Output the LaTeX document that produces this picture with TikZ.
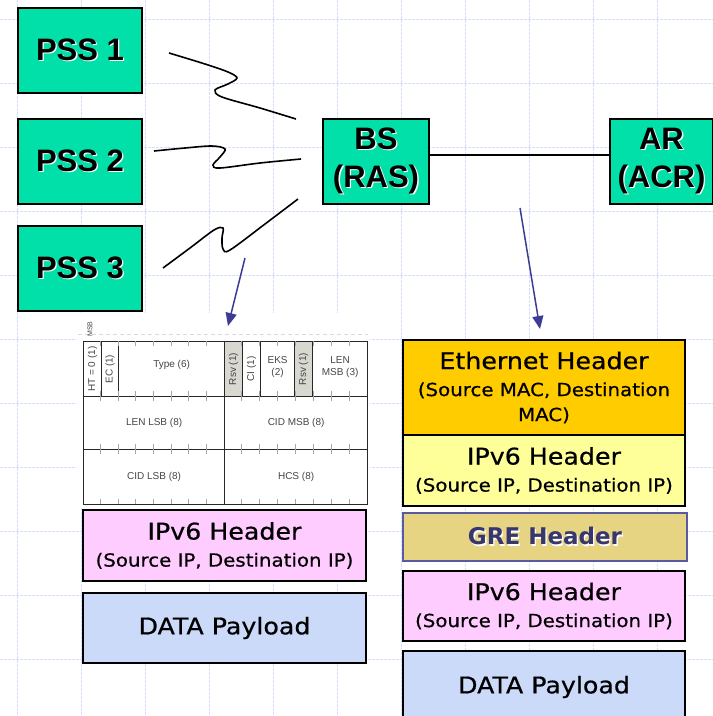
\documentclass[tikz,border=0pt]{standalone}
\usepackage{fontspec}
\setmainfont{DejaVu Sans}
\newfontfamily\labfont{Liberation Sans}
\newfontfamily\pkt[FakeStretch=1.1,FakeBold=0.6]{DejaVu Sans}
\newfontfamily\grefont{DejaVu Sans}
\newfontfamily\tblfont{Liberation Sans}
\usetikzlibrary{arrows.meta}
\definecolor{stn}{RGB}{0,224,168}
\definecolor{gridc}{RGB}{215,222,250}
\definecolor{arrc}{RGB}{60,60,150}
\definecolor{pinkc}{RGB}{255,204,255}
\definecolor{bluec}{RGB}{204,218,250}
\definecolor{ethc}{RGB}{255,204,0}
\definecolor{yelc}{RGB}{255,255,153}
\definecolor{grec}{RGB}{230,212,130}
\definecolor{greb}{RGB}{90,90,160}
\definecolor{gret}{RGB}{55,55,110}
\definecolor{tblline}{RGB}{40,40,40}
\definecolor{tbltext}{RGB}{70,70,70}
\definecolor{rsvc}{RGB}{216,216,208}
\newcommand\shd[1]{\leavevmode\rlap{\kern1.3pt\raisebox{-1.3pt}{\color{white}#1}}#1}
\tikzset{
  gridline/.style={gridc, line width=0.7pt, dash pattern=on 2.5pt off 1.5pt},
  stnbox/.style={draw=black, line width=2pt, fill=stn, anchor=north west, inner sep=0pt, align=center,
     font=\labfont\bfseries\fontsize{31}{38}\selectfont},
  wave/.style={black, line width=1.6pt},
  barrow/.style={arrc, line width=1.5pt, -{Triangle[length=13pt,width=11pt]}},
  pbox/.style={draw=black, line width=2pt, anchor=north west, inner sep=0pt, align=center,
     font=\pkt\fontsize{23}{27}\selectfont},
  cell/.style={draw=tblline, line width=1.2pt, fill=white, anchor=north west, inner sep=0pt},
  ctext/.style={font=\tblfont\fontsize{10}{11.5}\selectfont, text=tbltext, align=center, inner sep=0pt},
  tick/.style={gray!70, line width=0.8pt}
}
\begin{document}
\begin{tikzpicture}[x=1pt,y=-1pt]
\useasboundingbox (0,0) rectangle (713,716);
\fill[white] (0,0) rectangle (713,716);
% grid
\foreach \x in {17,81,...,720} \draw[gridline] (\x,0) -- (\x,716);
\foreach \y in {19,83,...,716} \draw[gridline] (0,\y) -- (713,\y);

% stations
\node[stnbox, minimum width=124, minimum height=85] (p1) at (17,7) {\shd{PSS 1}};
\node[stnbox, minimum width=124, minimum height=85] (p2) at (17,118) {\shd{PSS 2}};
\node[stnbox, minimum width=124, minimum height=85] (p3) at (17,225) {\shd{PSS 3}};
\node[stnbox, minimum width=106, minimum height=85] (bs) at (322,118) {\shd{BS}\\\shd{(RAS)}};
\node[stnbox, minimum width=103, minimum height=85] (ar) at (609,118) {\shd{AR}\\\shd{(ACR)}};
\draw[black, line width=1.6pt] ([yshift=6.5pt]bs.east) -- ([yshift=6.5pt]ar.west);

% wireless links
\draw[wave] plot[smooth, tension=0.55] coordinates {(169,53) (205,64) (228,72) (237,78) (228,84) (215,90) (222,97) (260,108) (296,119)};
\draw[wave] plot[smooth, tension=0.55] coordinates {(154,151) (185,148) (212,146) (225,149) (220,157) (213,165) (220,168) (260,163) (301,159)};
\draw[wave] plot[smooth, tension=0.55] coordinates {(163,268) (190,248) (214,230) (223,228) (222,238) (223,249) (230,250) (265,224) (298,199)};

% MAC header table (image background)
\fill[white] (76,313) rectangle (370,508);
\draw[gray!30, line width=0.8pt, dash pattern=on 4pt off 3pt] (78,334) -- (368,334);
\node[ctext, rotate=90, font=\tblfont\fontsize{7}{8}\selectfont] (msb) at (90,329) {MSB};

% arrows
\coordinate (a1s) at (245,258);
\coordinate (a1e) at (228,326);
\coordinate (a2s) at (520,208);
\coordinate (a2e) at (540,329);
\draw[barrow] (a1s) -- (a1e);
\draw[barrow] (a2s) -- (a2e);

\node[cell, minimum width=18, minimum height=55] (ht) at (83,341) {};
\node[cell, minimum width=17, minimum height=55] (ec) at (101,341) {};
\node[cell, minimum width=106, minimum height=55] (ty) at (118,341) {};
\node[cell, fill=rsvc, minimum width=18, minimum height=55] (r1) at (224,341) {};
\node[cell, minimum width=18, minimum height=55] (ci) at (242,341) {};
\node[cell, minimum width=34, minimum height=55] (eks) at (260,341) {};
\node[cell, fill=rsvc, minimum width=18, minimum height=55] (r2) at (294,341) {};
\node[cell, minimum width=55, minimum height=55] (lm) at (312,341) {};
\node[cell, minimum width=141, minimum height=53] (ll) at (83,396) {};
\node[cell, minimum width=143, minimum height=53] (cm) at (224,396) {};
\node[cell, minimum width=141, minimum height=55] (cl) at (83,449) {};
\node[cell, minimum width=143, minimum height=55] (hcs) at (224,449) {};

\foreach \k in {1,...,7} {
  \pgfmathsetmacro\xl{83+17.625*\k}
  \pgfmathsetmacro\xr{224+17.875*\k}
  \draw[tick] (\xl,341) -- (\xl,346);
  \draw[tick] (\xr,341) -- (\xr,346);
  \draw[tick] (\xl,391) -- (\xl,401);
  \draw[tick] (\xr,391) -- (\xr,401);
  \draw[tick] (\xl,444) -- (\xl,454);
  \draw[tick] (\xr,444) -- (\xr,454);
  \draw[tick] (\xl,499) -- (\xl,504);
  \draw[tick] (\xr,499) -- (\xr,504);
}

\node[ctext, rotate=90] at (ht.center) {HT = 0 (1)};
\node[ctext, rotate=90] at (ec.center) {EC (1)};
\node[ctext] at ([yshift=4pt]ty.center) {Type (6)};
\node[ctext, rotate=90] at (r1.center) {Rsv (1)};
\node[ctext, rotate=90] at (ci.center) {CI (1)};
\node[ctext] at ([yshift=2pt]eks.center) {EKS\\(2)};
\node[ctext, rotate=90] at (r2.center) {Rsv (1)};
\node[ctext] at ([yshift=2pt]lm.center) {LEN\\MSB (3)};
\node[ctext] at (ll.center) {LEN LSB (8)};
\node[ctext] at (cm.center) {CID MSB (8)};
\node[ctext] at (cl.center) {CID LSB (8)};
\node[ctext] at (hcs.center) {HCS (8)};

% left stack
\node[pbox, fill=pinkc, minimum width=283, minimum height=71] (lip) at (82,509)
  {IPv6 Header\\{\fontsize{18}{27}\selectfont (Source IP, Destination IP)}};
\node[pbox, fill=bluec, minimum width=283, minimum height=70] (ldata) at (82,592)
  {DATA Payload};

% right stack
\node[pbox, fill=ethc, minimum width=282, minimum height=95] (eth) at (402,339)
  {Ethernet Header\\{\fontsize{18}{27}\selectfont (Source MAC, Destination}\\[-2pt]{\fontsize{18}{25}\selectfont MAC)}};
\node[pbox, fill=yelc, minimum width=282, minimum height=71] (rip1) at (402,434)
  {IPv6 Header\\{\fontsize{18}{27}\selectfont (Source IP, Destination IP)}};
\node[pbox, draw=greb, fill=grec, minimum width=284, minimum height=48,
  font=\grefont\bfseries\fontsize{23}{27}\selectfont, text=gret] (gre) at (402,512)
  {\shd{GRE Header}};
\node[pbox, fill=pinkc, minimum width=282, minimum height=70] (rip2) at (402,570)
  {IPv6 Header\\{\fontsize{18}{27}\selectfont (Source IP, Destination IP)}};
\node[pbox, fill=bluec, minimum width=282, minimum height=72] (rdata) at (402,650)
  {DATA Payload};
\end{tikzpicture}
\end{document}
